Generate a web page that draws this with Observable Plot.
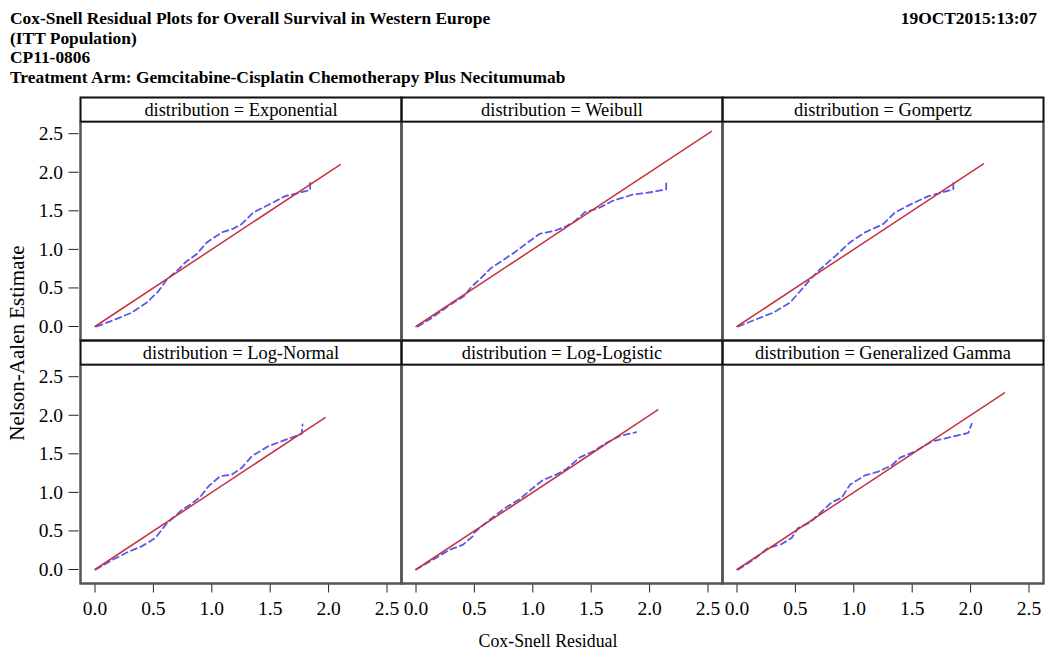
<!DOCTYPE html>
<html>
<head>
<meta charset="utf-8">
<script src="https://cdn.jsdelivr.net/npm/d3@7"></script>
<script src="https://cdn.jsdelivr.net/npm/@observablehq/plot@0.6"></script>
<style>
  body { margin: 0; background: #fff; }
  #wrap { position: relative; width: 1046px; height: 651px; overflow: hidden; background: #fff;
          font-family: "Liberation Serif", "Times New Roman", serif; color: #000; }
  .tl, .date, .xlab, .ylab { z-index: 2; }
  .tl { position: absolute; left: 10px; font-weight: bold; font-size: 17.4px; line-height: 1; white-space: nowrap; }
  .date { position: absolute; right: 9px; top: 10px; font-weight: bold; font-size: 17.4px; line-height: 1; white-space: nowrap; }
  .xlab { position: absolute; left: 548px; top: 641px; transform: translate(-50%, -50%); font-size: 17.8px; white-space: nowrap; }
  .ylab { position: absolute; left: 17px; top: 343px; transform: translate(-50%, -50%) rotate(-90deg); font-size: 21px; white-space: nowrap; }
  #wrap svg { position: absolute; left: 0; top: 0; z-index: 1; background: transparent; }
</style>
</head>
<body>
<div id="wrap">
  <div class="tl" style="top:10px">Cox-Snell Residual Plots for Overall Survival in Western Europe</div>
  <div class="tl" style="top:29.5px">(ITT Population)</div>
  <div class="tl" style="top:49px">CP11-0806</div>
  <div class="tl" style="top:69px">Treatment Arm: Gemcitabine-Cisplatin Chemotherapy Plus Necitumumab</div>
  <div class="date">19OCT2015:13:07</div>
  <div class="ylab">Nelson-Aalen Estimate</div>
  <div class="xlab">Cox-Snell Residual</div>
</div>
<script>
// ---- data ----
const distributions = ["Exponential", "Weibull", "Gompertz", "Log-Normal", "Log-Logistic", "Generalized Gamma"];

// end of the red reference line (Cox-Snell residual max, y = x)
const refEnd = [2.10, 2.53, 2.11, 1.97, 2.07, 2.29];

// blue dashed Nelson-Aalen estimate vs Cox-Snell residual
const expX = [0.015, 0.144, 0.315, 0.444, 0.544, 0.615, 0.715, 0.772, 0.872, 0.957, 1.086, 1.186, 1.257, 1.357, 1.514, 1.628, 1.742, 1.842, 1.842];
const expY = [0, 0.074, 0.18, 0.31, 0.46, 0.61, 0.74, 0.83, 0.94, 1.09, 1.22, 1.27, 1.33, 1.48, 1.60, 1.69, 1.73, 1.77, 1.88];

const weiX = [0.015, 0.144, 0.272, 0.415, 0.472, 0.558, 0.644, 0.715, 0.843, 0.957, 1.057, 1.186, 1.286, 1.357, 1.443, 1.571, 1.685, 1.856, 2.027, 2.142, 2.142];
const weiY = [0, 0.12, 0.26, 0.40, 0.51, 0.63, 0.76, 0.83, 0.96, 1.09, 1.20, 1.24, 1.30, 1.36, 1.48, 1.54, 1.63, 1.71, 1.745, 1.78, 1.88];

const gomX = [0.011, 0.168, 0.311, 0.454, 0.553, 0.639, 0.71, 0.839, 0.967, 1.096, 1.253, 1.353, 1.495, 1.638, 1.738, 1.852, 1.852];
const gomY = [0, 0.096, 0.18, 0.31, 0.48, 0.63, 0.74, 0.91, 1.09, 1.22, 1.33, 1.48, 1.59, 1.69, 1.73, 1.78, 1.88];

const lnX = [0.007, 0.144, 0.287, 0.40, 0.518, 0.615, 0.743, 0.815, 0.90, 0.972, 1.072, 1.171, 1.257, 1.343, 1.486, 1.628, 1.771, 1.777];
const lnY = [0, 0.12, 0.23, 0.30, 0.41, 0.60, 0.77, 0.84, 0.94, 1.08, 1.21, 1.23, 1.32, 1.47, 1.60, 1.68, 1.76, 1.88];

const llX = [0.0, 0.144, 0.287, 0.40, 0.486, 0.50, 0.586, 0.687, 0.786, 0.886, 0.972, 1.086, 1.20, 1.286, 1.40, 1.514, 1.628, 1.742, 1.885];
const llY = [0, 0.126, 0.255, 0.32, 0.43, 0.48, 0.59, 0.71, 0.82, 0.91, 1.02, 1.16, 1.23, 1.30, 1.45, 1.53, 1.64, 1.73, 1.78];

const ggX = [0.011, 0.14, 0.268, 0.382, 0.468, 0.525, 0.625, 0.696, 0.81, 0.896, 0.967, 1.096, 1.21, 1.324, 1.396, 1.524, 1.666, 1.837, 1.98, 2.01];
const ggY = [0, 0.126, 0.28, 0.33, 0.41, 0.54, 0.61, 0.71, 0.87, 0.93, 1.10, 1.22, 1.27, 1.35, 1.45, 1.53, 1.66, 1.72, 1.77, 1.89];

const axisTicks = [0, 0.5, 1.0, 1.5, 2.0, 2.5];

// ---- tables built from the arrays ----
const seriesX = [expX, weiX, gomX, lnX, llX, ggX];
const seriesY = [expY, weiY, gomY, lnY, llY, ggY];

const panels = distributions.map((d, i) => ({
  dist: d, label: "distribution = " + d, col: i % 3, row: Math.floor(i / 3)
}));

const naData = [];
panels.forEach((p, i) => {
  seriesX[i].forEach((x, j) => naData.push({...p, x, y: seriesY[i][j]}));
});

const refData = [];
panels.forEach((p, i) => {
  refData.push({...p, x: 0, y: 0});
  refData.push({...p, x: refEnd[i], y: refEnd[i]});
});

// ---- layout ----
const W = 1046, H = 651;
const mTop = 96.5, mBottom = 68.3, mLeft = 80, mRight = 3;
const cellH = (H - mTop - mBottom) / 2;
const stripH = 24.2;
const fmt = d3.format(".1f");

const chart = Plot.plot({
  width: W,
  height: H,
  marginTop: mTop,
  marginBottom: mBottom,
  marginLeft: mLeft,
  marginRight: mRight,
  style: { fontFamily: "Liberation Serif, Times New Roman, serif", fontSize: "18px", background: "transparent", color: "black" },
  fx: { axis: null, padding: 0 },
  fy: { axis: null, padding: 0 },
  x: { domain: [0, 2.5], insetLeft: 14.5, insetRight: 14.5 },
  y: { domain: [0, 2.5], insetTop: stripH + 12, insetBottom: 14 },
  marks: [
    Plot.frame({ stroke: "#555", strokeWidth: 2 }),
    Plot.frame({ insetTop: stripH, stroke: "#555", strokeWidth: 2 }),
    Plot.frame({ insetBottom: cellH - stripH, stroke: "#111", strokeWidth: 1.5 }),
    Plot.text(panels, {
      fx: "col", fy: "row", text: "label", frameAnchor: "top", dy: stripH / 2 + 1,
      lineAnchor: "middle", fontSize: 18.4, fill: "black"
    }),
    Plot.axisY({
      ticks: axisTicks, tickFormat: fmt, tickSize: 10, tickPadding: 6, dx: -1.5,
      label: null, facetAnchor: "left", fontSize: 19.5, stroke: "#222"
    }),
    Plot.axisX({
      ticks: axisTicks, tickFormat: fmt, tickSize: 8, tickPadding: 8, dy: 1.5,
      label: null, facetAnchor: "bottom", fontSize: 19.5, stroke: "#222"
    }),
    Plot.line(naData, {
      x: "x", y: "y", z: "dist", fx: "col", fy: "row",
      stroke: "#4646E8", strokeWidth: 1.8, strokeDasharray: "6,4", strokeOpacity: 0.9, curve: "linear"
    }),
    Plot.line(refData, {
      x: "x", y: "y", z: "dist", fx: "col", fy: "row",
      stroke: "#C8323F", strokeWidth: 1.5
    })
  ]
});

document.getElementById("wrap").appendChild(chart);
</script>
</body>
</html>
